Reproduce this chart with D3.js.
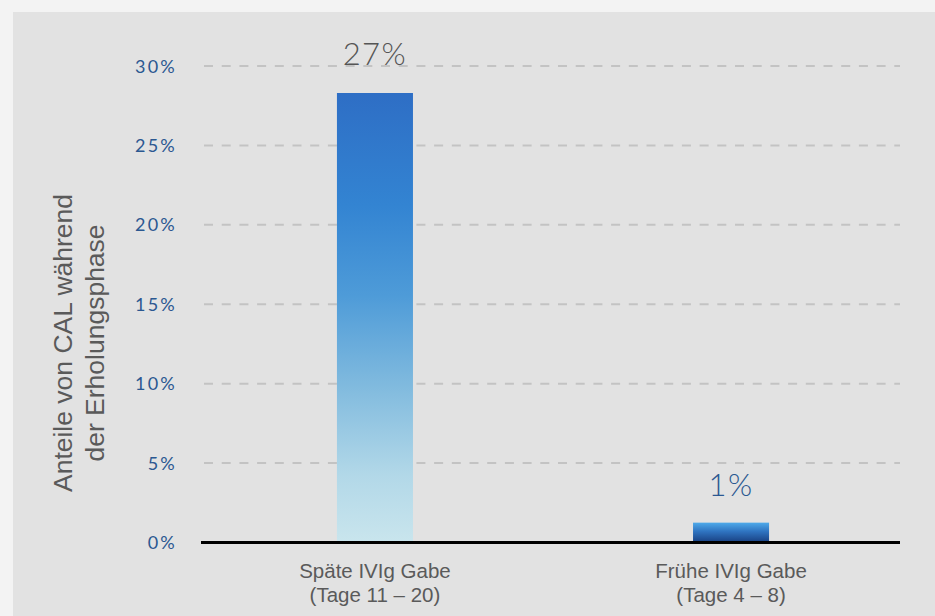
<!DOCTYPE html>
<html>
<head>
<meta charset="utf-8">
<script src="https://cdn.jsdelivr.net/npm/d3@7/dist/d3.min.js"></script>
<style>
  html, body { margin: 0; padding: 0; background: #f3f3f3; }
  svg { display: block; }
</style>
</head>
<body>
<script>
// ---- data ----
const categories = ["Späte IVIg Gabe|(Tage 11 – 20)", "Frühe IVIg Gabe|(Tage 4 – 8)"];
const values = [28.3, 1.25];
const valueLabels = ["27%", "1%"];
const yTicks = [0, 5, 10, 15, 20, 25, 30];
const yTitle = ["Anteile von CAL während", "der Erholungsphase"];

const W = 935, H = 616;
const svg = d3.select("body").append("svg").attr("width", W).attr("height", H);

// panel
svg.append("rect").attr("x", 0).attr("y", 0).attr("width", W).attr("height", H).attr("fill", "#f3f3f3");
svg.append("rect").attr("x", 13).attr("y", 12).attr("width", W - 13).attr("height", H - 12).attr("fill", "#e2e2e2");

const y = d3.scaleLinear().domain([0, 30]).range([542.5, 66]);
const x = d3.scaleBand().domain(categories).range([197, 909]).paddingInner(0.7865).paddingOuter(0.393);

// gradients
const defs = svg.append("defs");
const g1 = defs.append("linearGradient").attr("id", "g1").attr("x1", 0).attr("y1", 0).attr("x2", 0).attr("y2", 1);
[[0, "#2e6ec5"], [0.25, "#3384d2"], [0.45, "#4e9bd8"], [0.65, "#80bade"], [0.85, "#b2d8e8"], [1, "#c9e5ed"]]
  .forEach(([o, c]) => g1.append("stop").attr("offset", o).attr("stop-color", c));
const g2 = defs.append("linearGradient").attr("id", "g2").attr("x1", 0).attr("y1", 0).attr("x2", 0).attr("y2", 1);
[[0, "#4eaaea"], [0.45, "#2f73c0"], [1, "#183f80"]]
  .forEach(([o, c]) => g2.append("stop").attr("offset", o).attr("stop-color", c));

// grid lines
svg.append("g").selectAll("line").data(yTicks.filter(d => d > 0)).join("line")
  .attr("x1", 204).attr("x2", 900)
  .attr("y1", d => y(d)).attr("y2", d => y(d))
  .attr("stroke", "#c3c3c3").attr("stroke-width", 2)
  .attr("stroke-dasharray", "9,8.7");

// y tick labels
svg.append("g").selectAll("text").data(yTicks).join("text")
  .attr("x", 177).attr("y", d => y(d)).attr("dy", "0.37em")
  .attr("text-anchor", "end")
  .attr("font-family", "Lato, 'DejaVu Sans', sans-serif")
  .attr("font-weight", 400)
  .attr("font-size", 18)
  .attr("letter-spacing", "2.2px")
  .attr("fill", "#2b5891")
  .text(d => d + "%");

// bars
svg.append("g").selectAll("rect").data(values).join("rect")
  .attr("x", (d, i) => x(categories[i]))
  .attr("width", x.bandwidth())
  .attr("y", d => y(d))
  .attr("height", d => y(0) - y(d))
  .attr("fill", (d, i) => i === 0 ? "url(#g1)" : "url(#g2)");

// value labels
svg.append("g").selectAll("text").data(values).join("text")
  .attr("x", (d, i) => x(categories[i]) + x.bandwidth() / 2)
  .attr("y", (d, i) => i === 0 ? 65 : 496)
  .attr("text-anchor", "middle")
  .attr("font-family", "Lato, 'DejaVu Sans', sans-serif")
  .attr("font-weight", 300)
  .attr("font-size", 31)
  .attr("letter-spacing", "1.5px")
  .attr("fill", (d, i) => i === 0 ? "#555555" : "#2b5891")
  .text((d, i) => valueLabels[i]);

// x axis line
svg.append("line").attr("x1", 201).attr("x2", 900)
  .attr("y1", y(0)).attr("y2", y(0))
  .attr("stroke", "#000").attr("stroke-width", 3);

// x labels
const xl = svg.append("g").selectAll("text").data(categories).join("text")
  .attr("x", d => x(d) + x.bandwidth() / 2)
  .attr("y", 578)
  .attr("text-anchor", "middle")
  .attr("font-family", "'Liberation Sans', Arial, sans-serif")
  .attr("font-size", 20.5)
  .attr("fill", "#5a5a5a");
xl.each(function(d) {
  const parts = d.split("|");
  const t = d3.select(this);
  parts.forEach((p, i) => t.append("tspan")
    .attr("x", x(d) + x.bandwidth() / 2)
    .attr("dy", i === 0 ? 0 : 23.5)
    .text(p));
});

// y title
const yt = svg.append("text")
  .attr("transform", "translate(63,343) rotate(-90)")
  .attr("text-anchor", "middle")
  .attr("font-family", "'Liberation Sans', Arial, sans-serif")
  .attr("font-size", 26.5)
  .attr("fill", "#5a5a5a");
yTitle.forEach((t, i) => yt.append("tspan")
  .attr("x", 0).attr("y", i === 0 ? 9 : 41)
  .text(t));
</script>
</body>
</html>
